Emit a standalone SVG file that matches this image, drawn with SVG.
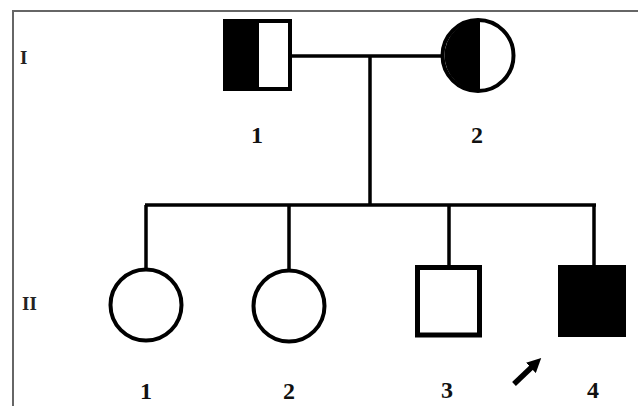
<svg xmlns="http://www.w3.org/2000/svg" width="638" height="406" viewBox="0 0 638 406">
<style>
.ln{stroke:#000;stroke-width:3.5;fill:none}
.sym{stroke:#000;stroke-width:4;fill:#fff}
.lbl{font-family:"Liberation Serif",serif;font-weight:bold;font-size:24px;fill:#111;text-anchor:middle}
.gen{font-family:"Liberation Serif",serif;font-weight:bold;font-size:19px;fill:#222}
</style>
<defs>
<marker id="ah" viewBox="0 0 10 10" refX="4" refY="5" markerWidth="2.6" markerHeight="2.6" orient="auto">
<path d="M0,0 L10,5 L0,10 Z" fill="#000"/>
</marker>
</defs>
<rect width="638" height="406" fill="#fff"/>
<path d="M13,406 V11 H638" stroke="#666" stroke-width="2" fill="none"/>
<text class="gen" x="20" y="64">I</text>
<text class="gen" x="22" y="310" font-size="17">II</text>
<g id="connectors">
<line class="ln" x1="292" y1="56" x2="441" y2="56"/>
<line class="ln" x1="370" y1="56" x2="370" y2="205"/>
<line class="ln" x1="145" y1="205" x2="596" y2="205"/>
<line class="ln" x1="146" y1="205" x2="146" y2="269"/>
<line class="ln" x1="289" y1="205" x2="289" y2="270"/>
<line class="ln" x1="449" y1="205" x2="449" y2="267"/>
<line class="ln" x1="594" y1="205" x2="594" y2="267"/>
</g>
<g id="I-1">
<rect class="sym" x="225" y="21" width="65" height="68"/>
<rect x="225" y="21" width="34" height="68" fill="#000"/>
<text class="lbl" x="257" y="143">1</text>
</g>
<g id="I-2">
<circle class="sym" cx="478" cy="55.5" r="35.5"/>
<path d="M480,20 A35.5,35.5 0 0 0 480,91 Z" fill="#000"/>
<text class="lbl" x="477" y="143">2</text>
</g>
<g id="II-1">
<circle class="sym" cx="146" cy="305" r="35.5"/>
<text class="lbl" x="146" y="399">1</text>
</g>
<g id="II-2">
<circle class="sym" cx="289" cy="306" r="35.5"/>
<text class="lbl" x="289" y="399">2</text>
</g>
<g id="II-3">
<rect x="417.5" y="267.5" width="62" height="67.5" stroke="#000" stroke-width="5" fill="#fff"/>
<text class="lbl" x="447" y="398">3</text>
</g>
<g id="II-4">
<rect x="558" y="265" width="68" height="72" fill="#000"/>
<text class="lbl" x="593" y="398">4</text>
</g>
<g id="proband-arrow">
<line x1="514" y1="384" x2="535" y2="364" stroke="#000" stroke-width="5.5" marker-end="url(#ah)"/>
</g>
</svg>
